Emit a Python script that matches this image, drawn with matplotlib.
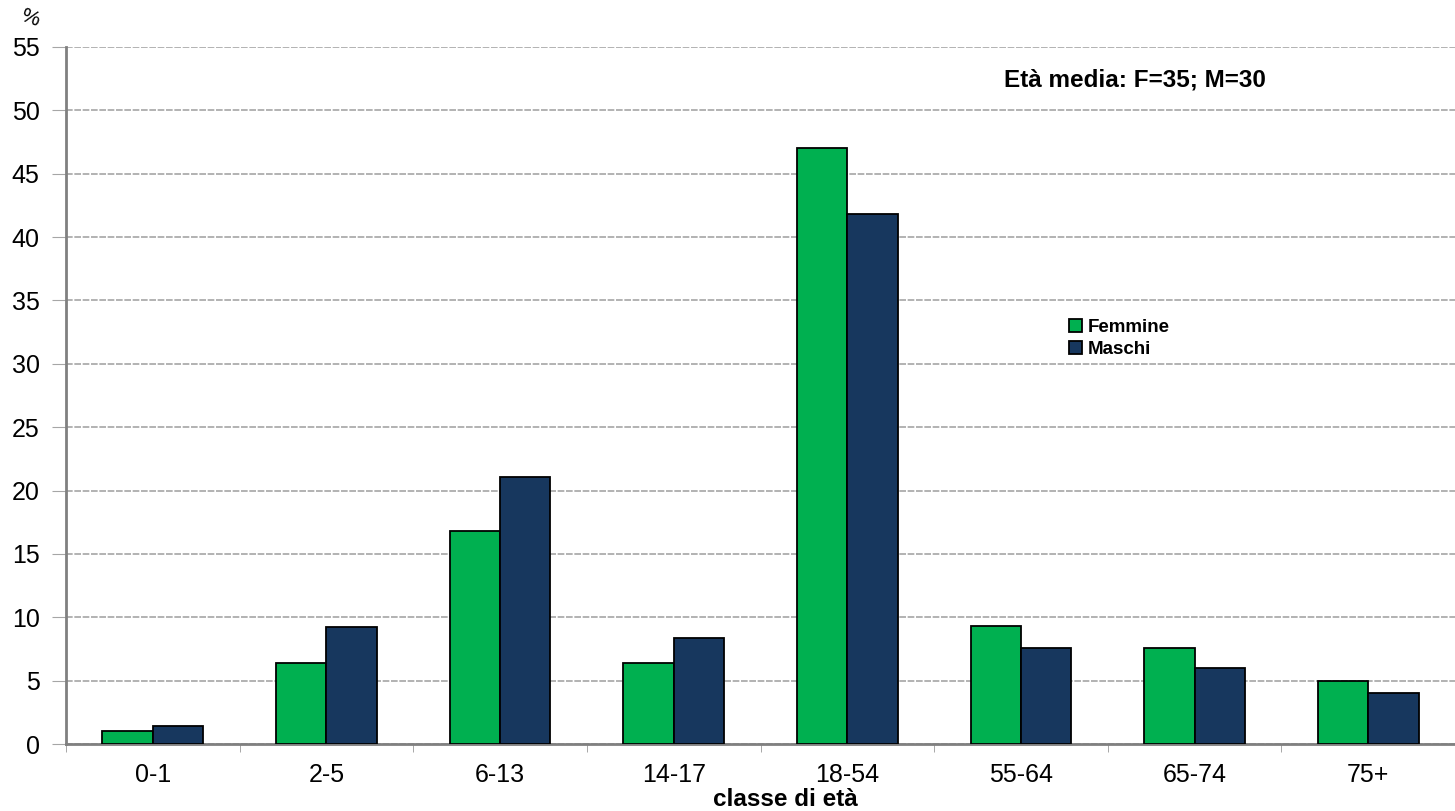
import numpy as np
import matplotlib
matplotlib.use("Agg")
import matplotlib.pyplot as plt

plt.rcParams['font.family'] = ['Liberation Sans', 'DejaVu Sans']

# dati (%)
classi = ['0-1', '2-5', '6-13', '14-17', '18-54', '55-64', '65-74', '75+']
femmine = [1.0, 6.4, 16.8, 6.4, 47.0, 9.35, 7.6, 5.0]
maschi = [1.4, 9.2, 21.1, 8.4, 41.8, 7.6, 6.0, 4.0]

col_f = '#00B050'
col_m = '#17375E'

fig = plt.figure(figsize=(14.55, 8.11), dpi=100)
ax = fig.add_axes([66 / 1455, 67 / 811, 1389 / 1455, 697 / 811])

x = np.arange(len(classi))
w = 0.29
ax.bar(x - w / 2, femmine, w, color=col_f, edgecolor='black', linewidth=1.3,
       label='Femmine', zorder=3)
ax.bar(x + w / 2, maschi, w, color=col_m, edgecolor='black', linewidth=1.3,
       label='Maschi', zorder=3)

# l'asse x continua oltre il bordo destro dell'immagine
ax.set_xlim(-0.5, -0.5 + 1389 / 175.6)
ax.set_ylim(0, 55)
ax.set_yticks(np.arange(0, 56, 5))
ax.yaxis.grid(True, color='#a6a6a6', linestyle=(0, (4, 1)), linewidth=1.2, zorder=0)

# tick tra le classi
ax.set_xticks(x)
ax.set_xticklabels(classi, fontsize=18)
ax.tick_params(axis='x', length=0, pad=14)
ax.set_xticks(np.arange(-0.5, len(classi), 1), minor=True)
ax.tick_params(axis='x', which='minor', length=6, color='#999999')
ax.tick_params(axis='y', labelsize=18, length=10, color='#a6a6a6', pad=9)

for s in ['top', 'right']:
    ax.spines[s].set_visible(False)
ax.spines['left'].set_color('#808080')
ax.spines['left'].set_linewidth(2)
ax.spines['bottom'].set_color('#808080')
ax.spines['bottom'].set_linewidth(2)

ax.legend(loc='center left', bbox_to_anchor=(0.715, 0.582), frameon=False,
          prop={'weight': 'bold', 'size': 13.5}, handlelength=0.7, handleheight=0.7,
          handletextpad=0.3, labelspacing=0.25, borderpad=0)

ax.text(0.675, 0.953, 'Età media: F=35; M=30', transform=ax.transAxes,
        fontsize=17.5, fontweight='bold', va='center', ha='left')

fig.text(785 / 1455, 1 - 800 / 811, 'classe di età', fontsize=17.5,
         fontweight='bold', ha='center', va='center')
fig.text(30 / 1455, 1 - 18 / 811, '%', fontsize=15, ha='center', va='center',
         rotation=-20)

fig.savefig('out.png', dpi=100)
